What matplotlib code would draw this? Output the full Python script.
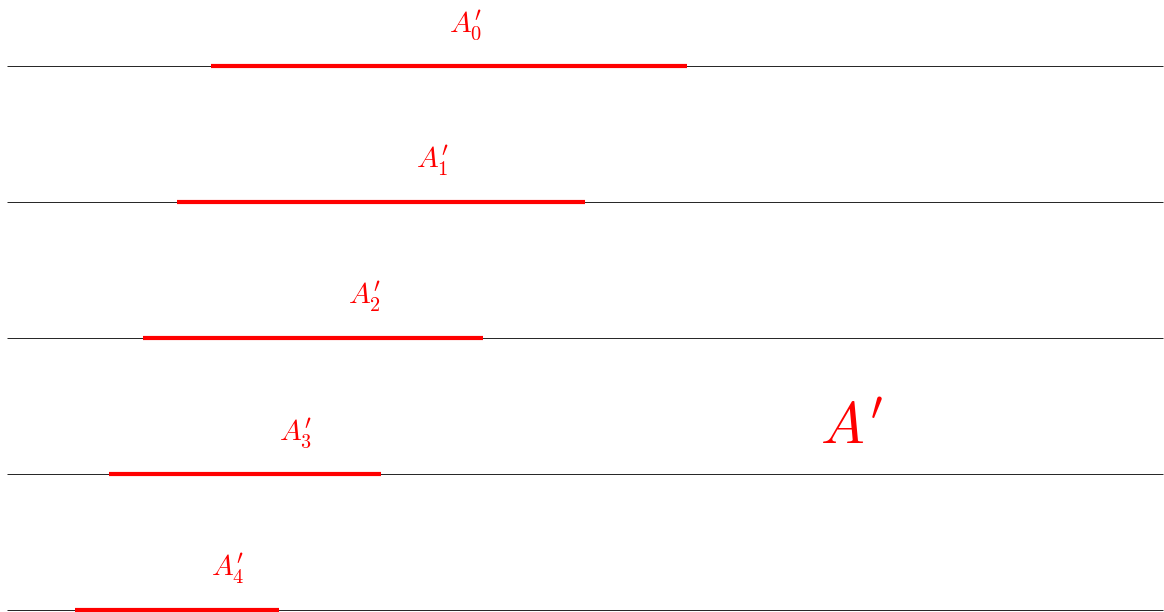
import matplotlib
matplotlib.use("Agg")
import matplotlib.pyplot as plt

plt.rcParams['mathtext.fontset'] = 'cm'

# segment data, one per row
rows = [0, 1, 2, 3, 4]
seg_start = [6, 5, 4, 3, 2]
seg_end = [20, 17, 14, 11, 8]
row_y = [0, -4, -8, -12, -16]
labels = [r"$A^{\prime}_0$", r"$A^{\prime}_1$", r"$A^{\prime}_2$", r"$A^{\prime}_3$", r"$A^{\prime}_4$"]
label_x = [13.5, 12.5, 10.5, 8.5, 6.5]
line_left, line_right = 0, 34

fig = plt.figure(figsize=(11.64, 6.12), dpi=100)
ax = fig.add_axes([0, 0, 1, 1])

for i in rows:
    y = row_y[i]
    ax.plot([line_left, line_right], [y, y], color='black', lw=0.6, solid_capstyle='butt')
    ax.plot([seg_start[i], seg_end[i]], [y, y], color='red', lw=3, solid_capstyle='butt')
    ax.text(label_x[i], y + 1.0, labels[i], color='red', fontsize=21,
            ha='center', va='baseline')

ax.text(24.85, -11.12, r"$A^{\prime}$", color='red', fontsize=42, ha='center', va='baseline')

ax.set_xlim(-7 / 34, 34 + 1 / 34)
ax.set_ylim(-546 / 34, 66 / 34)
ax.axis('off')

fig.savefig('out.png', dpi=100)
